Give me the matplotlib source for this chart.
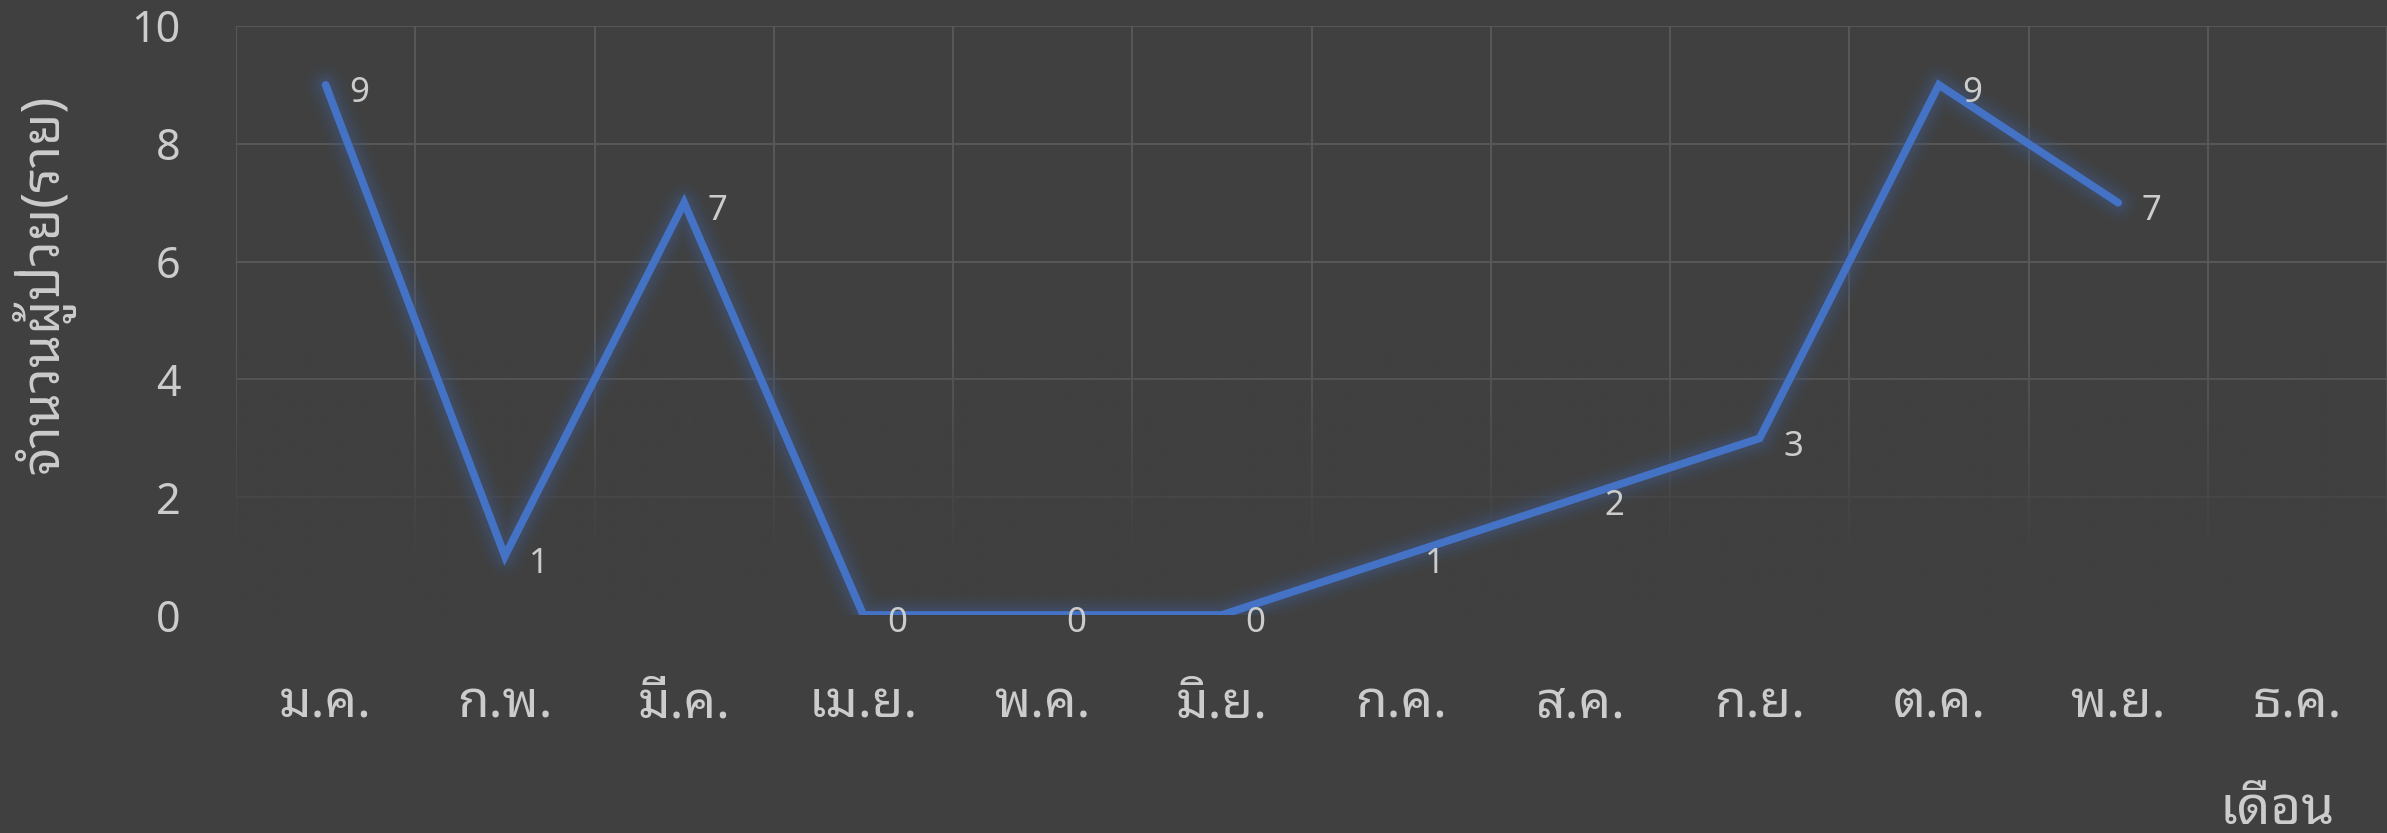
import matplotlib
matplotlib.use("Agg")
import matplotlib.pyplot as plt
import numpy as np

plt.rcParams['font.family'] = ['Noto Sans Thai Looped', 'DejaVu Sans']

## monthly data
months = ['ม.ค.', 'ก.พ.', 'มี.ค.', 'เม.ย.', 'พ.ค.', 'มิ.ย.',
          'ก.ค.', 'ส.ค.', 'ก.ย.', 'ต.ค.', 'พ.ย.', 'ธ.ค.']
patients = [9, 1, 7, 0, 0, 0, 1, 2, 3, 9, 7, np.nan]
y_ticks = [0, 2, 4, 6, 8, 10]

bg = '#404040'
grid_col = '#5a5a5a'
txt_col = '#cccccc'
line_col = '#4472C4'
glow_col = '#3f5a8c'

W, H = 2387, 833
fig = plt.figure(figsize=(W / 100, H / 100), dpi=100, facecolor=bg)
ax = fig.add_axes([236 / W, 1 - 615 / H, (W - 236) / W, (615 - 26) / H])
ax.set_facecolor(bg)

x = np.arange(len(months)) + 0.5
ax.set_xlim(0, len(months))

## grid
ax.set_yticks(y_ticks)
ax.yaxis.grid(True, color=grid_col, linewidth=1.3, zorder=0.5)
for b in range(len(months) + 1):
    ax.axvline(b, color=grid_col, linewidth=1.3, zorder=0.5)
ax.set_axisbelow(True)

## fade the lower part of the grid like the original
yy = np.linspace(4.5, 0, 200)
alpha = np.clip((4.5 - yy) / (4.5 - 1.0), 0, 1) ** 0.9
fade = np.zeros((200, 2, 4))
fade[..., :3] = matplotlib.colors.to_rgb(bg)
fade[..., 3] = alpha[:, None]
ax.imshow(fade, extent=(0, len(months), -0.05, 4.5), origin='upper',
          aspect='auto', zorder=1, interpolation='bilinear')
ax.set_ylim(0, 10)

## glow + line
for lw, a in [(28, 0.08), (22, 0.10), (16, 0.14), (11, 0.2)]:
    ax.plot(x, patients, color=glow_col, linewidth=lw, alpha=a,
            solid_capstyle='round', solid_joinstyle='round', zorder=2)
ax.plot(x, patients, color=line_col, linewidth=5.6,
        solid_capstyle='round', solid_joinstyle='miter', zorder=3)

for xi, v in zip(x, patients):
    if np.isnan(v):
        continue
    ax.annotate('%d' % v, (xi, v), xytext=(17, -6), textcoords='offset points',
                ha='left', va='center', fontsize=25, color=txt_col, zorder=4)

ax.set_xticks(x)
ax.set_xticklabels(months)
ax.tick_params(axis='both', length=0, colors=txt_col)
ax.tick_params(axis='x', pad=46, labelsize=37)
ax.tick_params(axis='y', pad=40, labelsize=31)
for s in ax.spines.values():
    s.set_visible(False)

fig.text(43 / W, 1 - 284 / H, 'จำนวนผู้ป่วย(ราย)', rotation=90,
         ha='center', va='center', fontsize=38, color=txt_col)
fig.text(2277 / W, 1 - 810 / H, 'เดือน', ha='center', va='center',
         fontsize=38, color=txt_col)

fig.savefig('out.png', facecolor=bg)
